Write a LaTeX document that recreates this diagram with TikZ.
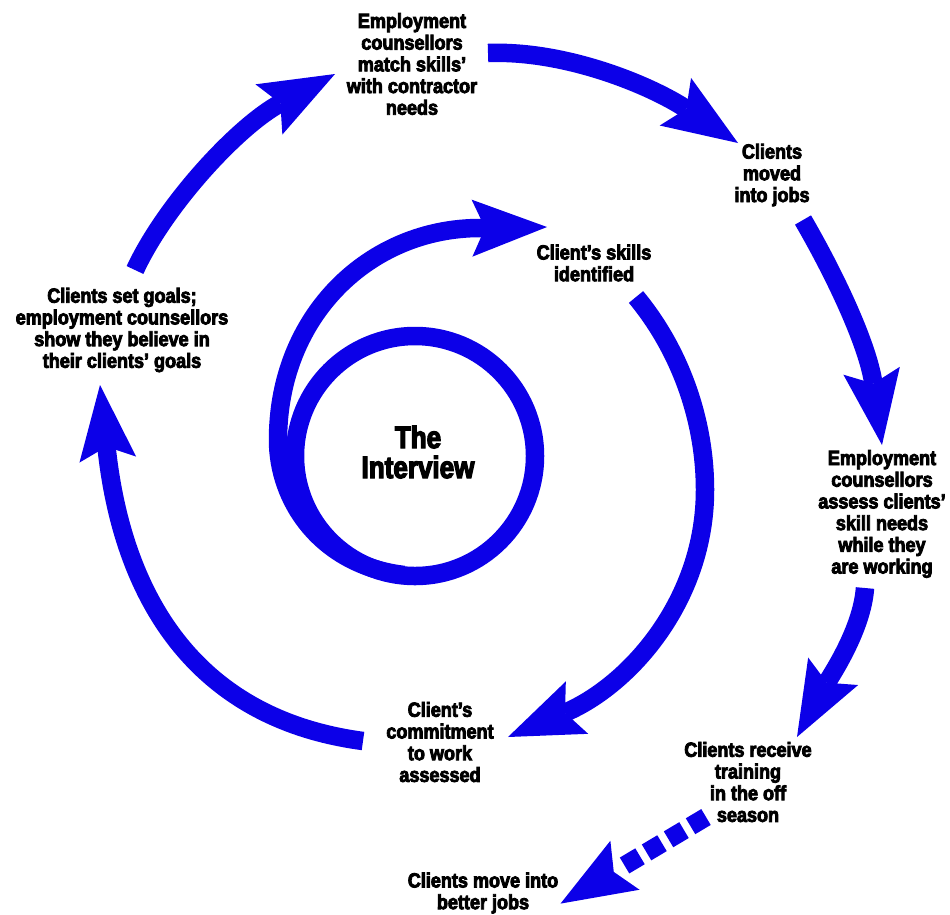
\documentclass[tikz,border=0pt]{standalone}
\usepackage{fontspec}
\newfontfamily\labfont{Liberation Sans Bold}[FakeStretch=0.88,FakeBold=4]
\newfontfamily\titlefont{Liberation Sans Bold}[FakeStretch=0.84,FakeBold=4]
\usetikzlibrary{arrows.meta}
\definecolor{cycleblue}{RGB}{12,0,232}
\tikzset{
  lbl/.style={align=center, inner sep=0pt, text=black,
    font=\labfont\fontsize{20.5}{21.7}\selectfont},
  ttl/.style={align=center, inner sep=0pt, text=black,
    font=\titlefont\fontsize{31}{30}\selectfont},
  band/.style={draw=cycleblue, line width=18.5pt, line cap=butt},
  flow/.style={band, -{Stealth[length=75pt,width=57pt,inset=13pt,line width=0pt]}},
  dotflow/.style={flow, dash pattern=on 18pt off 7.6pt on 18pt off 7.6pt on 18pt off 7.6pt on 18pt off 60pt},
}
\begin{document}
\begin{tikzpicture}[x=1pt,y=-1pt]
\useasboundingbox (0,0) rectangle (950,914);

% labels
\node[ttl] (core) at (418,452) {The\\Interview};
\node[lbl] (match) at (412,64) {Employment\\counsellors\\match skills’\\with contractor\\needs};
\node[lbl] (moved) at (772,175) {Clients\\moved\\into jobs};
\node[lbl] (skills) at (594,263) {Client’s skills\\identified};
\node[lbl] (goals) at (122,330) {Clients set goals;\\employment counsellors\\show they believe in\\their clients’ goals};
\node[lbl] (assess) at (882,514) {Employment\\counsellors\\assess clients’\\skill needs\\while they\\are working};
\node[lbl] (commit) at (440,742) {Client’s\\commitment\\to work\\assessed};
\node[lbl] (train) at (748,782) {Clients receive\\training\\in the off\\season};
\node[lbl] (better) at (483,893) {Clients move into\\better jobs};

% arrow end points
\coordinate (hub) at (415,456);
\coordinate (spiralS) at (404,575);
\coordinate (spiralE) at (547,227);
\coordinate (skillsS) at (636,297);
\coordinate (commitE) at (508,737);
\coordinate (matchS) at (488,53);
\coordinate (movedE) at (738,143);
\coordinate (movedS) at (803,220);
\coordinate (assessE) at (882,445);
\coordinate (assessS) at (865,588);
\coordinate (trainE) at (797,737);
\coordinate (trainS) at (706,817);
\coordinate (betterE) at (560.5,903.6);
\coordinate (commitS) at (363,741);
\coordinate (goalsE) at (100,385);
\coordinate (goalsS) at (135,270);
\coordinate (matchE) at (335,74);

% inner loop around the interview
\draw[band] (hub) circle[radius=120pt];
\draw[flow] (spiralS) .. controls (320,565) and (278,500) .. (278,440)
  .. controls (278,315) and (370,228) .. (480,228) -- (spiralE);
\draw[flow] (skillsS) .. controls (680,350) and (705,420) .. (705,490)
  .. controls (705,600) and (630,685) .. (commitE);

% outer cycle
\draw[flow] (matchS) .. controls (565,50) and (650,85) .. (movedE);
\draw[flow] (movedS) .. controls (835,275) and (868,345) .. (assessE);
\draw[flow] (assessS) .. controls (862,630) and (830,677) .. (trainE);
\draw[dotflow] (trainS) -- (betterE);
\draw[flow] (commitS) .. controls (190,718) and (121.5,590) .. (goalsE);
\draw[flow] (goalsS) .. controls (165,205) and (238,126) .. (matchE);
\end{tikzpicture}
\end{document}
